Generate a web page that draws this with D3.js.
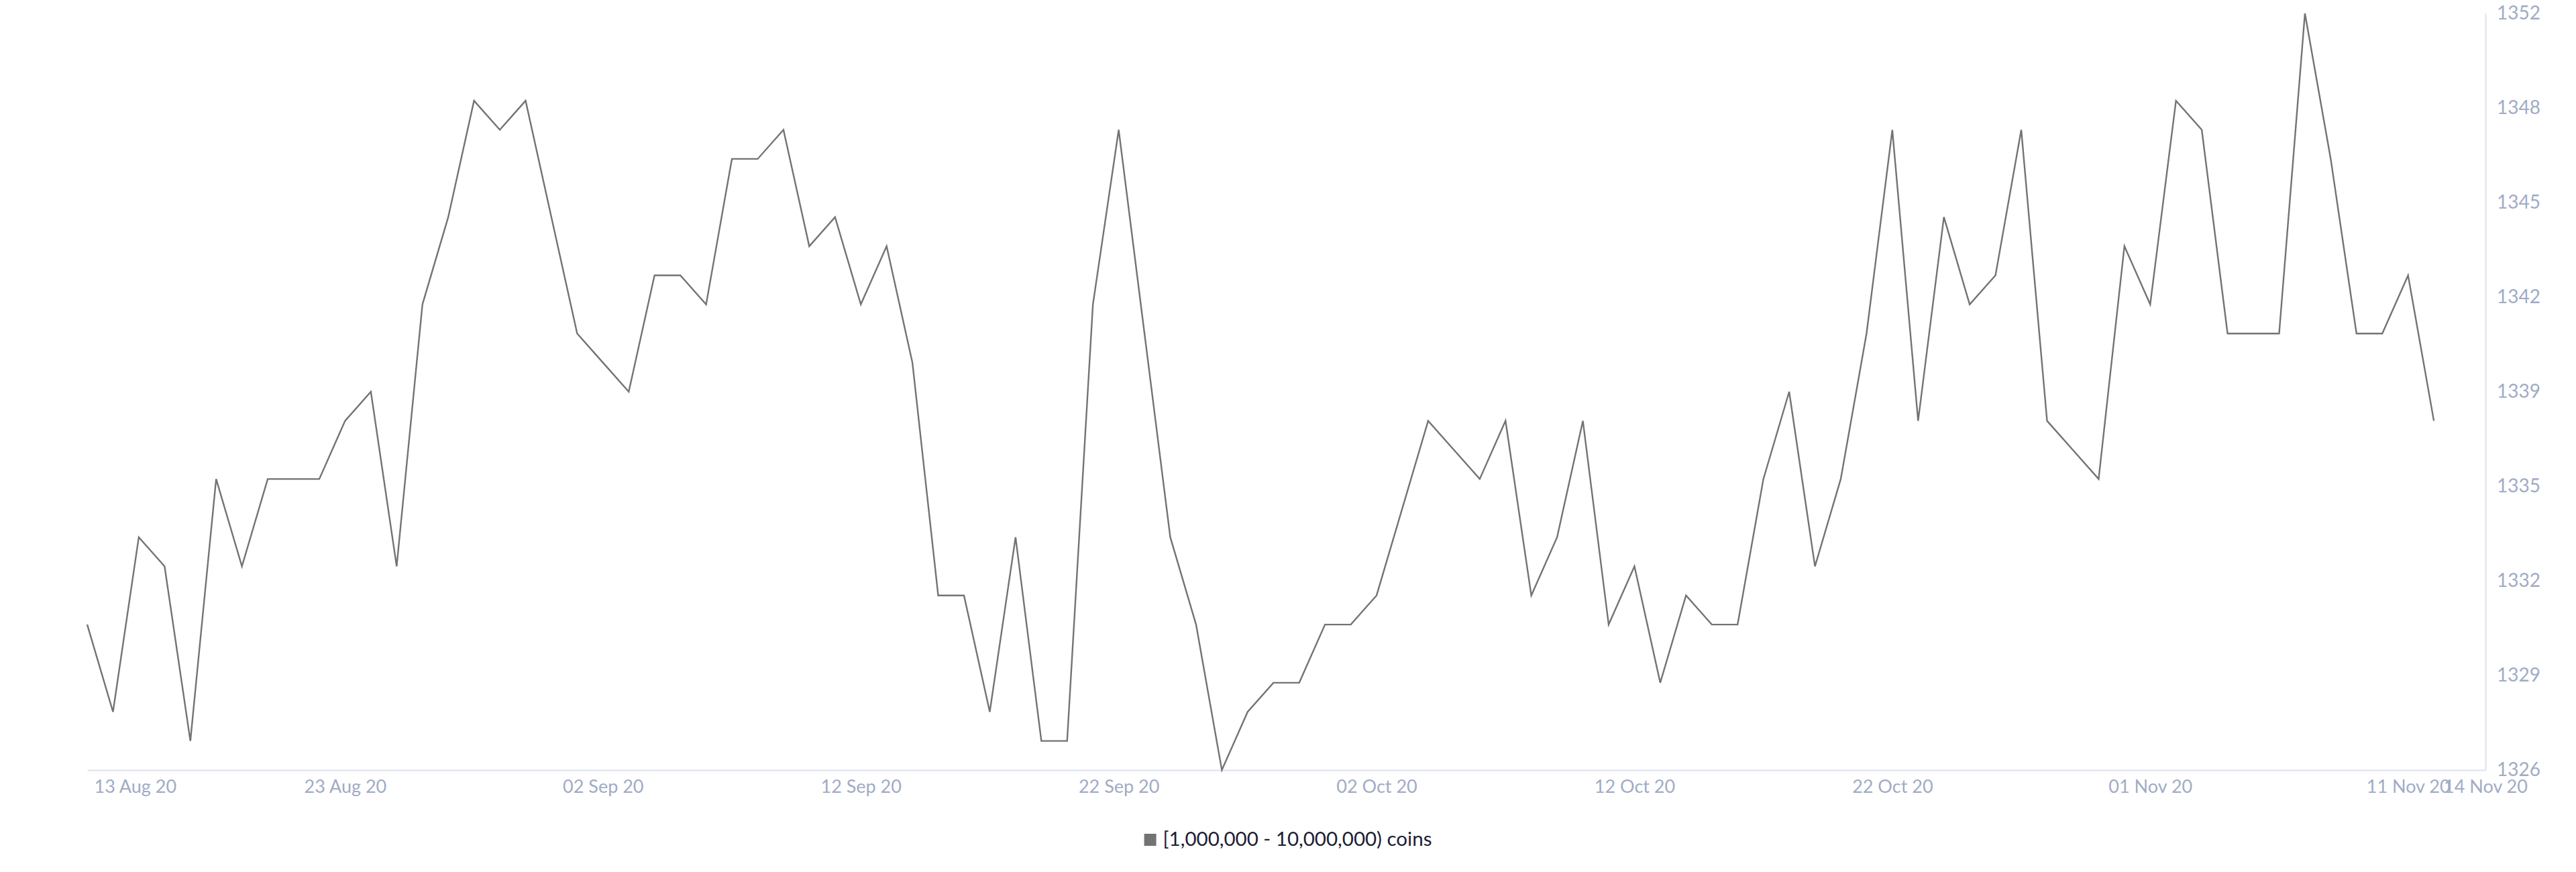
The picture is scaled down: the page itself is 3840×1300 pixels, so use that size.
<!DOCTYPE html>
<html>
<head>
<meta charset="utf-8">
<script src="https://cdn.jsdelivr.net/npm/d3@7"></script>
<style>
  html, body { margin: 0; padding: 0; background: #ffffff; }
  svg { display: block; }
  text { font-family: Lato, "Open Sans", sans-serif; }
</style>
</head>
<body>
<svg id="chart" width="3840" height="1300"></svg>
<script>
const dates = [
  "2020-08-13","2020-08-14","2020-08-15","2020-08-16","2020-08-17","2020-08-18","2020-08-19","2020-08-20","2020-08-21","2020-08-22",
  "2020-08-23","2020-08-24","2020-08-25","2020-08-26","2020-08-27","2020-08-28","2020-08-29","2020-08-30","2020-08-31","2020-09-01",
  "2020-09-02","2020-09-03","2020-09-04","2020-09-05","2020-09-06","2020-09-07","2020-09-08","2020-09-09","2020-09-10","2020-09-11",
  "2020-09-12","2020-09-13","2020-09-14","2020-09-15","2020-09-16","2020-09-17","2020-09-18","2020-09-19","2020-09-20","2020-09-21",
  "2020-09-22","2020-09-23","2020-09-24","2020-09-25","2020-09-26","2020-09-27","2020-09-28","2020-09-29","2020-09-30","2020-10-01",
  "2020-10-02","2020-10-03","2020-10-04","2020-10-05","2020-10-06","2020-10-07","2020-10-08","2020-10-09","2020-10-10","2020-10-11",
  "2020-10-12","2020-10-13","2020-10-14","2020-10-15","2020-10-16","2020-10-17","2020-10-18","2020-10-19","2020-10-20","2020-10-21",
  "2020-10-22","2020-10-23","2020-10-24","2020-10-25","2020-10-26","2020-10-27","2020-10-28","2020-10-29","2020-10-30","2020-10-31",
  "2020-11-01","2020-11-02","2020-11-03","2020-11-04","2020-11-05","2020-11-06","2020-11-07","2020-11-08","2020-11-09","2020-11-10",
  "2020-11-11","2020-11-12"
];

const holders = [
  1331,1328,1334,1333,1327,1336,1333,1336,1336,1336,
  1338,1339,1333,1342,1345,1349,1348,1349,1345,1341,
  1340,1339,1343,1343,1342,1347,1347,1348,1344,1345,
  1342,1344,1340,1332,1332,1328,1334,1327,1327,1342,
  1348,1341,1334,1331,1326,1328,1329,1329,1331,1331,
  1332,1335,1338,1337,1336,1338,1332,1334,1338,1331,
  1333,1329,1332,1331,1331,1336,1339,1333,1336,1341,
  1348,1338,1345,1342,1343,1348,1338,1337,1336,1344,
  1342,1349,1348,1341,1341,1341,1352,1347,1341,1341,
  1343,1338
];

const xTickDates = ["2020-08-13","2020-08-23","2020-09-02","2020-09-12","2020-09-22","2020-10-02","2020-10-12","2020-10-22","2020-11-01","2020-11-11","2020-11-14"];
const xDomainDates = ["2020-08-13","2020-11-14"];
const yTicks = [1326, 1329.25, 1332.5, 1335.75, 1339, 1342.25, 1345.5, 1348.75, 1352];
const seriesName = "[1,000,000 - 10,000,000) coins";

(function () {
  const parse = d3.utcParse("%Y-%m-%d");
  const data = dates.map((d, i) => ({ date: parse(d), value: holders[i] }));

  const mLeft = 130, mRight = 3705, mTop = 20, mBottom = 1148;
  const lineColor = "#737373";
  const axisColor = "#e3e7f1";
  const labelColor = "#a0abc5";

  const svg = d3.select("#chart");

  const x = d3.scaleUtc().domain(xDomainDates.map(parse)).range([mLeft, mRight]);
  const y = d3.scaleLinear().domain([yTicks[0], yTicks[yTicks.length - 1]]).range([mBottom, mTop]);

  // X axis
  const xAxis = svg.append("g")
    .attr("transform", `translate(0,${mBottom})`)
    .call(d3.axisBottom(x)
      .tickValues(xTickDates.map(parse))
      .tickSize(0)
      .tickSizeOuter(0)
      .tickPadding(15)
      .tickFormat(d3.utcFormat("%d %b %y")));
  xAxis.select(".domain").attr("stroke", axisColor).attr("stroke-width", 2.5);
  xAxis.selectAll("text").attr("fill", labelColor).style("font-size", "27px");
  xAxis.selectAll(".tick").filter((d, i) => i === 0).select("text")
    .attr("text-anchor", "start").attr("x", 10);

  // Y axis (right)
  const yAxis = svg.append("g")
    .attr("transform", `translate(${mRight},0)`)
    .call(d3.axisRight(y)
      .tickValues(yTicks)
      .tickSize(0)
      .tickSizeOuter(0)
      .tickPadding(17)
      .tickFormat(d => String(Math.floor(d))));
  yAxis.select(".domain").attr("stroke", axisColor).attr("stroke-width", 2.5);
  yAxis.selectAll("text").attr("fill", labelColor).style("font-size", "28px");

  // Line
  const line = d3.line().x(d => x(d.date)).y(d => y(d.value));
  svg.append("path")
    .datum(data)
    .attr("fill", "none")
    .attr("stroke", lineColor)
    .attr("stroke-width", 2.4)
    .attr("stroke-linejoin", "miter")
    .attr("d", line);

  // Legend
  const legend = svg.append("g");
  legend.append("rect")
    .attr("x", 0).attr("y", -18)
    .attr("width", 18).attr("height", 18)
    .attr("fill", lineColor);
  legend.append("text")
    .attr("x", 28).attr("y", 0)
    .attr("fill", "#1c2033")
    .style("font-size", "29.5px")
    .text(seriesName);
  const bw = legend.node().getBBox().width;
  legend.attr("transform", `translate(${1920 - bw / 2},1261)`);
})();
</script>
</body>
</html>
